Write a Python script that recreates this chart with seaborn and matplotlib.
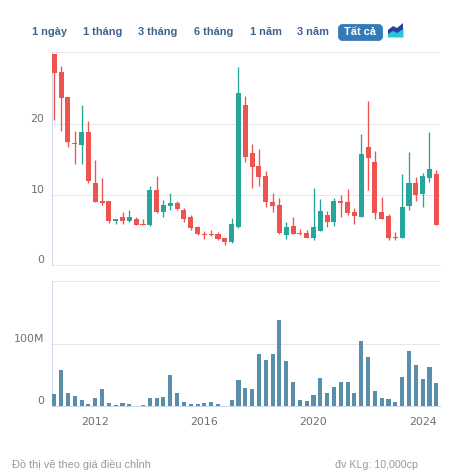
import numpy as np
import pandas as pd
import matplotlib
matplotlib.use('Agg')
import matplotlib.pyplot as plt
from matplotlib.patches import FancyBboxPatch, Polygon
from matplotlib.transforms import ScaledTranslation
import seaborn as sns

open_top = [30.0, 27.4, 23.9, 17.3, 18.9, 18.9, 11.66, 9.1, 9.1, 6.6, 6.8, 6.8, 6.6, 5.8, 10.65, 10.65, 8.5, 8.8, 8.8,
            7.8, 6.8, 5.4, 4.4, 4.4, 4.35, 3.8, 5.83, 24.45, 22.75, 15.9, 14.1, 12.65, 8.95, 8.5, 5.4, 5.55, 4.55, 4.55,
            5.4, 7.7, 7.1, 9.1, 9.1, 8.95, 7.55, 15.8, 16.8, 14.65, 7.55, 6.95, 4.0, 8.25, 11.65, 11.65, 12.65, 13.65, 12.95]
body_low = [27.35, 23.8, 17.5, 17.2, 17.0, 11.9, 9.0, 8.85, 6.2, 6.2, 6.2, 6.2, 5.7, 5.7, 5.7, 7.6, 7.55, 8.4, 8.0,
            6.5, 5.25, 4.4, 4.3, 4.2, 3.75, 3.3, 3.3, 5.4, 15.4, 14.0, 12.55, 9.0, 8.4, 4.55, 4.2, 4.45, 4.4, 3.9,
            3.9, 4.9, 6.1, 6.1, 8.85, 7.4, 7.0, 6.8, 15.2, 7.4, 6.55, 3.85, 3.85, 3.85, 8.4, 9.95, 10.1, 12.35, 5.7]
high = [30.0, 28.3, 23.9, 19.05, 22.75, 20.5, 14.9, 12.4, 9.1, 6.6, 7.5, 7.8, 6.8, 6.5, 11.2, 12.65, 9.25, 10.2, 9.05,
        8.05, 7.05, 5.6, 4.9, 5.0, 4.65, 3.8, 6.7, 28.15, 24.0, 17.2, 16.5, 13.35, 10.25, 9.5, 6.1, 6.8, 5.15, 5.0,
        10.95, 9.4, 7.7, 9.5, 9.95, 10.8, 8.1, 18.7, 23.3, 16.2, 9.65, 7.2, 4.7, 12.95, 16.05, 12.5, 13.1, 18.9, 13.5]
low = [20.6, 19.1, 16.8, 14.3, 14.4, 11.7, 9.0, 8.6, 6.0, 5.9, 5.9, 6.1, 5.7, 5.7, 5.55, 7.35, 6.8, 7.85, 7.8,
       6.1, 5.0, 4.25, 3.65, 4.1, 3.55, 2.9, 3.1, 5.3, 14.7, 11.0, 11.3, 8.3, 7.6, 4.45, 3.75, 4.35, 4.25, 3.8,
       3.55, 4.9, 5.4, 5.55, 6.8, 7.1, 5.85, 6.8, 10.65, 6.55, 6.55, 3.55, 3.55, 3.85, 7.8, 9.1, 8.25, 11.8, 5.7]
is_up = [0, 0, 0, 0, 1, 0, 0, 0, 0, 1, 0, 1, 0, 0, 1, 0, 1, 1, 0,
         0, 0, 0, 0, 0, 0, 0, 1, 1, 0, 0, 0, 0, 0, 0, 1, 0, 0, 0,
         1, 1, 0, 1, 0, 0, 0, 1, 0, 0, 0, 0, 0, 1, 1, 0, 1, 1, 0]
volume = [20, 58.6, 21.5, 16.7, 10, 3.8, 13.4, 28, 5.4, 2.2, 5.4, 3.8, 0.3, 2.2, 13.4, 13.4, 15, 50.5, 21.5,
          7, 3.8, 3.8, 5.4, 7, 3.8, 0.3, 10, 42.5, 29.6, 28, 84.4, 74.7, 84.4, 139, 73, 39, 10, 8.6,
          18.3, 45.7, 21.5, 31, 39, 39, 21.5, 105, 79.6, 24.7, 13.4, 11.8, 7, 47.3, 89, 66.7, 44, 63.4, 37.6]
year_ticks = [2012, 2016, 2020, 2024]
price_ticks = [0, 10, 20, 30.25]
price_labels = ['0', '10', '20', '']
vol_ticks = [0, 100, 201.6]
vol_labels = ['0', '100M', '']
buttons = ['1 ngày', '1 tháng', '3 tháng', '6 tháng', '1 năm', '3 năm']

RED = '#ef5350'
GREEN = '#26a69a'
VOL = '#5a8fab'
GRID = '#e6e6e6'
AXIS = '#ccd6eb'
LABEL = '#707070'
PX = 0.72  # one pixel in points at dpi 100

df = pd.DataFrame({'x': 2010.5 + 0.25 * np.arange(len(volume)), 'top': open_top, 'bot': body_low,
                   'high': high, 'low': low, 'up': is_up, 'vol': volume})
df['body'] = df['top'] - df['bot']

sns.set_theme(style='white')
W, H = 451, 472
fig = plt.figure(figsize=(W / 100, H / 100), dpi=100, facecolor='white')
ax = fig.add_axes([51.5 / W, 1 - 265 / H, (440 - 51.5) / W, (265 - 52.3) / H])
ax2 = fig.add_axes([51.5 / W, 1 - 406.3 / H, (440 - 51.5) / W, (406.3 - 281.3) / H])
xlim = (2010.397, 2024.636)

for up, col in [(0, RED), (1, GREEN)]:
    d = df[df['up'] == up]
    ax.vlines(d['x'], d['low'], d['high'], color=col, lw=0.95, zorder=3)
    sns.barplot(data=d, x='x', y='body', bottom=d['bot'].values, native_scale=True, color=col, saturation=1,
                width=0.74, errorbar=None, linewidth=0, ax=ax, zorder=4)

sns.barplot(data=df, x='x', y='vol', native_scale=True, color=VOL, saturation=1, width=0.6, errorbar=None,
            linewidth=0, ax=ax2, zorder=3)

ax.set_ylim(0, 30.25)
ax2.set_ylim(0, 201.6)
ax.set_yticks(price_ticks, price_labels)
ax2.set_yticks(vol_ticks, vol_labels)
ax.set_xticks([])
ax2.set_xticks(year_ticks, [str(y) for y in year_ticks])
lift = ScaledTranslation(0, 6 / 100, fig.dpi_scale_trans)
for a in (ax, ax2):
    a.set_xlim(*xlim)
    a.set_xlabel('')
    a.set_ylabel('')
    a.grid(True, axis='y', color=GRID, lw=PX)
    a.grid(False, axis='x')
    a.set_axisbelow(True)
    for s in ('top', 'right'):
        a.spines[s].set_visible(False)
    a.spines['left'].set_color(AXIS)
    a.spines['left'].set_linewidth(PX)
    a.spines['bottom'].set_color(AXIS)
    a.spines['bottom'].set_linewidth(PX)
    a.tick_params(axis='y', length=0, pad=5, labelsize=7.9, labelcolor=LABEL)
    for lab in a.get_yticklabels():
        lab.set_transform(lab.get_transform() + lift)
ax.spines['bottom'].set_color(GRID)
ax2.tick_params(axis='x', length=7, width=PX, color=AXIS, pad=1, labelsize=7.9, labelcolor=LABEL)

# toolbar and footer, in pixel coordinates
ui = fig.add_axes([0, 0, 1, 1], zorder=10)
ui.set_xlim(0, W)
ui.set_ylim(H, 0)
ui.axis('off')
ui.patch.set_alpha(0)
for label, px in zip(buttons, [32, 83, 138, 194, 249.5, 297]):
    ui.text(px, 32, label, family='Liberation Sans', fontsize=7.9, fontweight='bold', color='#3f6290',
            ha='left', va='center')
ui.add_patch(FancyBboxPatch((339.5, 25.5), 42, 14, boxstyle='round,pad=0,rounding_size=3', mutation_aspect=1,
                            fc='#337ab7', ec='#337ab7', lw=2))
ui.text(360.5, 32, 'Tất cả', family='Liberation Sans', fontsize=7.9, fontweight='bold', color='white',
        ha='center', va='center')
ui.add_patch(Polygon([(388, 37), (388, 30), (393, 26), (397, 28), (403, 23), (403, 37)], fc='#2c3e9e', ec='none'))
ui.add_patch(Polygon([(388, 37.5), (388, 34), (393, 31), (397, 33), (403.5, 29), (403.5, 37.5)], fc='#26c6da', ec='none'))
ui.text(12, 465, 'Đồ thị vẽ theo giá điều chỉnh', family='Liberation Sans', fontsize=7.9, color='#999999',
        ha='left', va='center')
ui.text(418, 465, 'đv KLg: 10,000cp', family='Liberation Sans', fontsize=7.7, color='#999999',
        ha='right', va='center')

fig.savefig('out.png', dpi=100)
